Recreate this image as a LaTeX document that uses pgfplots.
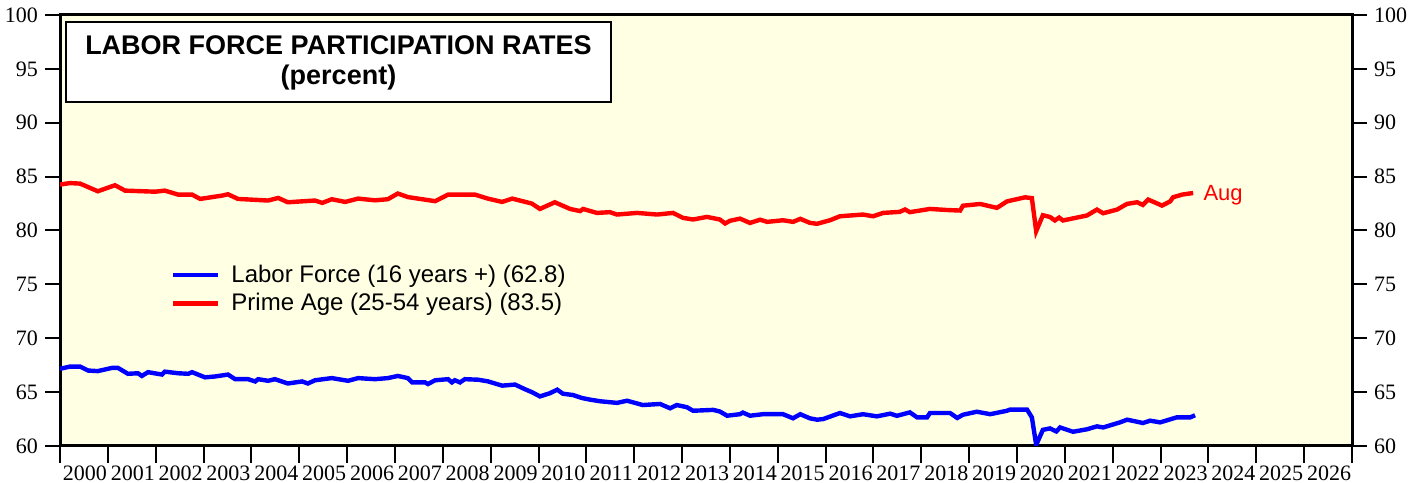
\documentclass[border=0pt]{standalone}
\usepackage{fontspec}
\setmainfont{Liberation Serif}
\newfontfamily\sans{Liberation Sans}
\usepackage{pgfplots}
\pgfplotsset{compat=1.18}
\usetikzlibrary{calc}
\definecolor{bgyellow}{RGB}{255,255,228}
\begin{document}
\begin{tikzpicture}
\begin{axis}[name=ax, scale only axis, width=646pt, height=215.5pt,
  xmin=2000, xmax=2027, ymin=60, ymax=100,
  axis background/.style={fill=bgyellow},
  axis line style={line width=1.5pt},
  tick align=outside,
  xtick pos=left, ytick pos=left,
  xtick={2000.5,2001.5,2002.5,2003.5,2004.5,2005.5,2006.5,2007.5,2008.5,2009.5,2010.5,2011.5,2012.5,2013.5,2014.5,2015.5,2016.5,2017.5,2018.5,2019.5,2020.5,2021.5,2022.5,2023.5,2024.5,2025.5,2026.5},
  xticklabels={2000,2001,2002,2003,2004,2005,2006,2007,2008,2009,2010,2011,2012,2013,2014,2015,2016,2017,2018,2019,2020,2021,2022,2023,2024,2025,2026},
  minor xtick={2000,2001,...,2027},
  every major x tick/.style={draw=none},
  every minor x tick/.style={black, line width=1pt},
  minor tick length=8.5pt,
  major tick length=7.5pt,
  every major y tick/.style={black, line width=1pt},
  ytick={60,65,...,100},
  /pgf/number format/assume math mode=true,
  ticklabel style={font=\fontsize{11}{13}\selectfont},
  xticklabel style={inner xsep=0pt, xshift=0.5pt, yshift=1pt},
  legend style={at={(rel axis cs:0.081,0.44)}, anchor=north west, draw=none, fill=none,
    font=\sans\fontsize{12}{14}\selectfont, row sep=0pt},
  legend cell align=left,
  legend image code/.code={\draw[#1] (0pt,0pt) -- (22.5pt,0pt); \path (26pt,0pt);},
]
\draw[fill=white, line width=0.8pt] (axis cs:2000.125,99.35) rectangle (axis cs:2011.515,91.93);
\node[font=\sans\bfseries\fontsize{13.5}{15}\selectfont, align=center] at (axis cs:2005.82,95.55) {LABOR FORCE PARTICIPATION RATES\\(percent)};

\addplot[blue, line width=2.2pt] coordinates {
(2000.00,67.16) (2000.21,67.37) (2000.42,67.37) (2000.59,67.0) (2000.79,66.95)
(2001.09,67.25) (2001.21,67.25) (2001.42,66.7) (2001.63,66.75) (2001.71,66.5) (2001.84,66.85)
(2002.13,66.63) (2002.19,66.9) (2002.47,66.75) (2002.68,66.7) (2002.76,66.85)
(2003.03,66.37) (2003.24,66.45) (2003.51,66.63) (2003.66,66.2) (2003.93,66.2)
(2004.08,65.99) (2004.14,66.2) (2004.35,66.05) (2004.49,66.2) (2004.76,65.8)
(2005.06,65.99) (2005.18,65.8) (2005.33,66.1) (2005.68,66.3)
(2006.02,66.05) (2006.23,66.3) (2006.58,66.2) (2006.85,66.3)
(2007.06,66.5) (2007.27,66.3) (2007.36,65.9) (2007.63,65.9) (2007.69,65.75) (2007.84,66.1)
(2008.11,66.2) (2008.19,65.9) (2008.25,66.1) (2008.36,65.9) (2008.46,66.2) (2008.74,66.15) (2008.94,66.0)
(2009.24,65.6) (2009.51,65.7) (2009.72,65.26) (2009.86,65.0)
(2010.03,64.6) (2010.24,64.9) (2010.39,65.23) (2010.51,64.85) (2010.72,64.73) (2010.91,64.45)
(2011.08,64.3) (2011.29,64.15) (2011.64,64.0) (2011.85,64.2)
(2012.18,63.8) (2012.54,63.9) (2012.75,63.5) (2012.89,63.8)
(2013.10,63.6) (2013.23,63.27) (2013.65,63.35) (2013.79,63.2) (2013.94,62.81)
(2014.21,62.95) (2014.27,63.1) (2014.42,62.81) (2014.69,62.95)
(2015.11,62.95) (2015.32,62.57) (2015.47,62.95) (2015.67,62.57) (2015.82,62.44) (2015.95,62.5)
(2016.30,63.06) (2016.51,62.75) (2016.78,62.95)
(2017.07,62.75) (2017.35,63.0) (2017.49,62.8) (2017.76,63.12) (2017.91,62.66)
(2018.12,62.66) (2018.18,63.06) (2018.60,63.06) (2018.75,62.6) (2018.87,62.9)
(2019.16,63.18) (2019.44,62.95) (2019.79,63.27) (2019.85,63.37)
(2020.21,63.37) (2020.31,62.66) (2020.40,60.1) (2020.54,61.5) (2020.69,61.63) (2020.82,61.35) (2020.90,61.72)
(2021.17,61.32) (2021.46,61.55) (2021.67,61.82) (2021.80,61.72)
(2022.15,62.19) (2022.30,62.44) (2022.51,62.25) (2022.63,62.13) (2022.78,62.35) (2022.99,62.19)
(2023.34,62.66) (2023.62,62.66) (2023.72,62.85)
};
\addlegendentry{Labor Force (16 years +) (62.8)}

\addplot[red, line width=2.2pt] coordinates {
(2000.00,84.26) (2000.21,84.4) (2000.42,84.35) (2000.79,83.64)
(2001.15,84.2) (2001.36,83.7) (2001.99,83.6)
(2002.19,83.7) (2002.47,83.33) (2002.76,83.33) (2002.93,82.93)
(2003.39,83.24) (2003.51,83.36) (2003.72,82.93)
(2004.35,82.78) (2004.56,83.02) (2004.76,82.62)
(2005.33,82.78) (2005.48,82.56) (2005.68,82.9) (2005.96,82.65)
(2006.23,82.96) (2006.58,82.8) (2006.85,82.9)
(2007.06,83.43) (2007.27,83.1) (2007.57,82.9) (2007.84,82.72)
(2008.11,83.33) (2008.67,83.33) (2008.94,82.96)
(2009.24,82.65) (2009.45,82.96) (2009.86,82.5)
(2010.03,82.0) (2010.34,82.62) (2010.66,82.0) (2010.87,81.8) (2010.93,82.0)
(2011.22,81.63) (2011.49,81.7) (2011.64,81.48)
(2012.06,81.63) (2012.48,81.48) (2012.81,81.63)
(2013.02,81.17) (2013.23,81.02) (2013.52,81.26) (2013.79,81.02) (2013.90,80.65)
(2014.00,80.9) (2014.21,81.1) (2014.42,80.7) (2014.63,81.0) (2014.78,80.8)
(2015.11,80.95) (2015.32,80.8) (2015.47,81.08) (2015.67,80.71) (2015.82,80.62)
(2016.09,80.95) (2016.30,81.32) (2016.78,81.48) (2016.99,81.32)
(2017.20,81.63) (2017.55,81.73) (2017.66,81.95) (2017.76,81.7)
(2018.18,82.0) (2018.54,81.9) (2018.81,81.85) (2018.87,82.3)
(2019.23,82.46) (2019.58,82.1) (2019.79,82.7)
(2020.17,83.08) (2020.31,83.0) (2020.40,79.94) (2020.54,81.42) (2020.69,81.25) (2020.79,80.93) (2020.88,81.2) (2020.96,80.93)
(2021.46,81.39) (2021.67,81.94) (2021.80,81.6)
(2022.09,81.94) (2022.30,82.47) (2022.51,82.62) (2022.63,82.37) (2022.74,82.87)
(2023.03,82.31) (2023.20,82.7) (2023.26,83.08) (2023.45,83.33) (2023.68,83.48)
};
\addlegendentry{Prime Age (25-54 years) (83.5)}

\node[anchor=west, text=red, font=\sans\fontsize{11}{13}\selectfont] at (axis cs:2023.75,83.25) {Aug};
\end{axis}
\begin{axis}[scale only axis, width=646pt, height=215.5pt,
  xmin=2000, xmax=2027, ymin=60, ymax=100,
  axis x line=none, axis y line*=right,
  axis line style={line width=1.5pt, -},
  tick align=outside, major tick length=7.5pt,
  every major y tick/.style={black, line width=1pt},
  ytick={60,65,...,100},
  /pgf/number format/assume math mode=true,
  ticklabel style={font=\fontsize{11}{13}\selectfont},
]
\end{axis}
\pgfresetboundingbox
\path[use as bounding box] ($(ax.south west)+(-30pt,-18.5pt)$) rectangle ($(ax.north east)+(38pt,7.5pt)$);
\end{tikzpicture}
\end{document}
